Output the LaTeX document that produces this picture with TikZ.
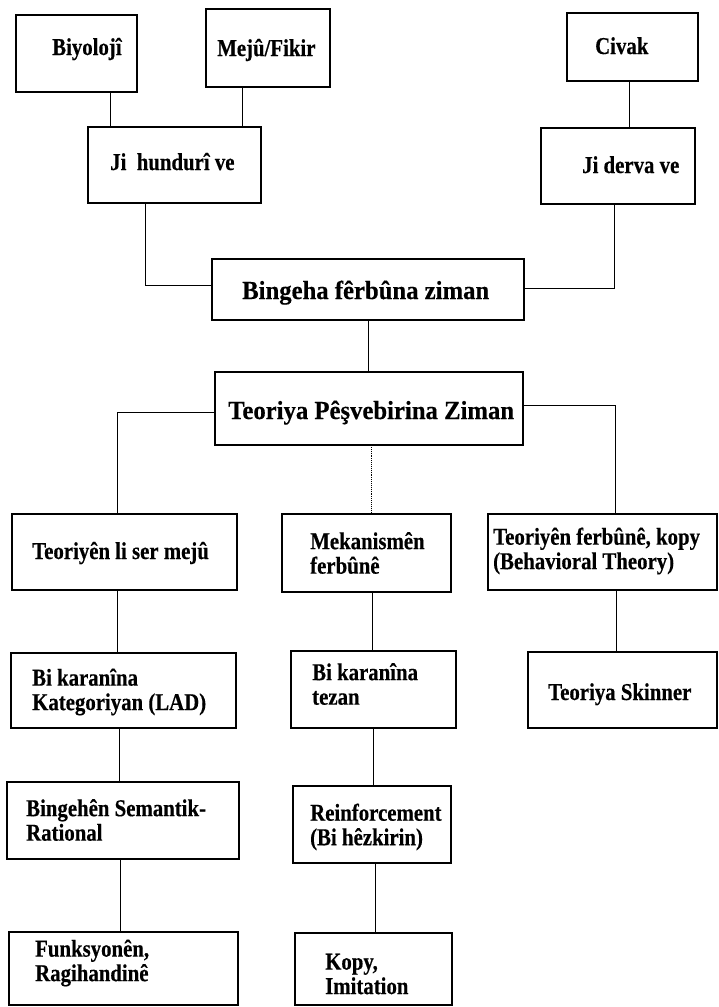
\documentclass[tikz,border=0pt]{standalone}
\usepackage{fontspec}
\setmainfont{Liberation Serif}[FakeStretch=0.86, BoldFeatures={FakeBold=0.4}]
\newfontfamily\bigfont{Liberation Serif}[FakeStretch=0.95, BoldFeatures={FakeBold=0.4}]
\begin{document}
\begin{tikzpicture}[x=1pt,y=-1pt,
  box/.style={draw, line width=1.1pt, inner sep=0pt, outer sep=0pt, anchor=north west},
  conn/.style={line width=0.9pt},
  dotconn/.style={line width=0.9pt, densely dotted},
  txt/.style={font=\fontsize{24.2}{24.5}\selectfont\bfseries, inner sep=0pt, align=left},
  big/.style={font=\bigfont\fontsize{26}{29}\selectfont\bfseries, inner sep=0pt}]
\useasboundingbox (0,0) rectangle (718,1007);
% boxes
\node[box, minimum width=121pt, minimum height=77pt] (biy) at (16,15) {};
\node[box, minimum width=124pt, minimum height=78pt] (mej) at (206,9) {};
\node[box, minimum width=131pt, minimum height=68pt] (civ) at (567,13) {};
\node[box, minimum width=173pt, minimum height=76pt] (hund) at (88,127) {};
\node[box, minimum width=154pt, minimum height=76pt] (derv) at (541,128) {};
\node[box, minimum width=312pt, minimum height=61pt] (bing) at (212,259) {};
\node[box, minimum width=308pt, minimum height=73pt] (teor) at (215,372) {};
\node[box, minimum width=225pt, minimum height=76pt] (tlsm) at (12,514) {};
\node[box, minimum width=169pt, minimum height=78pt] (mek) at (282,514) {};
\node[box, minimum width=229pt, minimum height=76pt] (tfk) at (488,514) {};
\node[box, minimum width=225pt, minimum height=75pt] (bkk) at (11,653) {};
\node[box, minimum width=165pt, minimum height=77pt] (bkt) at (291,651) {};
\node[box, minimum width=189pt, minimum height=76pt] (skin) at (528,652) {};
\node[box, minimum width=232pt, minimum height=77pt] (sem) at (7,782) {};
\node[box, minimum width=158pt, minimum height=77pt] (rein) at (293,786) {};
\node[box, minimum width=229pt, minimum height=73pt] (funk) at (9,932) {};
\node[box, minimum width=157pt, minimum height=72pt] (kopy) at (295,933) {};
% texts
\node[txt, anchor=base west] (biyt) at (52,55) {Biyolojî};
\node[txt, anchor=base west] (mejt) at (217,56) {Mejû/Fikir};
\node[txt, anchor=base west] (civt) at (595,54) {Civak};
\node[txt, anchor=base west] (hundt) at (110,170) {Ji\ \ hundurî ve};
\node[txt, anchor=base west] (dervt) at (582,173) {Ji derva ve};
\node[big, anchor=base west] (bingt) at (242,299) {Bingeha fêrbûna ziman};
\node[big, anchor=base west] (teort) at (228,419) {Teoriya Pêşvebirina Ziman};
\node[txt, anchor=base west] (tlsmt) at (32,559) {Teoriyên li ser mejû};
\node[txt, anchor=west] (mekt) at (310,553) {Mekanismên\\ferbûnê};
\node[txt, anchor=west] (tfkt) at (493,551) {Teoriyên ferbûnê, kopy\\(Behavioral Theory)};
\node[txt, anchor=west] (bkkt) at (32,692) {Bi karanîna\\Kategoriyan (LAD)};
\node[txt, anchor=west] (bktt) at (312,684) {Bi karanîna\\tezan};
\node[txt, anchor=base west] (skint) at (548,700) {Teoriya Skinner};
\node[txt, anchor=west] (semt) at (26,820) {Bingehên Semantik-\\Rational};
\node[txt, anchor=west] (reint) at (310,827) {Reinforcement\\(Bi hêzkirin)};
\node[txt, anchor=west] (funkt) at (35,963) {Funksyonên,\\Ragihandinê};
\node[txt, anchor=west] (kopyt) at (325,974) {Kopy,\\Imitation};
% connector columns
\coordinate (c110) at (110,0);
\coordinate (c242) at (242,0);
\coordinate (c629) at (629,0);
\coordinate (c145) at (145,0);
\coordinate (c614) at (614,0);
\coordinate (c368) at (368,0);
\coordinate (c117) at (117,0);
\coordinate (c371) at (371,0);
\coordinate (c615) at (615,0);
\coordinate (c119) at (119,0);
\coordinate (c120) at (120,0);
\coordinate (c372) at (372,0);
\coordinate (c373) at (373,0);
\coordinate (c375) at (375,0);
\coordinate (c616) at (616,0);
\coordinate (r285) at (0,285);
\coordinate (r288) at (0,288);
\coordinate (r412) at (0,412);
\coordinate (r405) at (0,405);
% connectors
\draw[conn] (biy.south -| c110) -- (hund.north -| c110);
\draw[conn] (mej.south -| c242) -- (hund.north -| c242);
\draw[conn] (civ.south -| c629) -- (derv.north -| c629);
\draw[conn] (hund.south -| c145) |- (bing.west |- r285);
\draw[conn] (derv.south -| c614) |- (bing.east |- r288);
\draw[conn] (bing.south -| c368) -- (teor.north -| c368);
\draw[conn] (teor.west |- r412) -| (tlsm.north -| c117);
\draw[dotconn] (teor.south -| c371) -- (mek.north -| c371);
\draw[conn] (teor.east |- r405) -| (tfk.north -| c615);
\draw[conn] (tlsm.south -| c117) -- (bkk.north -| c117);
\draw[conn] (bkk.south -| c119) -- (sem.north -| c119);
\draw[conn] (sem.south -| c120) -- (funk.north -| c120);
\draw[conn] (mek.south -| c372) -- (bkt.north -| c372);
\draw[conn] (bkt.south -| c373) -- (rein.north -| c373);
\draw[conn] (rein.south -| c375) -- (kopy.north -| c375);
\draw[conn] (tfk.south -| c616) -- (skin.north -| c616);
\end{tikzpicture}
\end{document}
